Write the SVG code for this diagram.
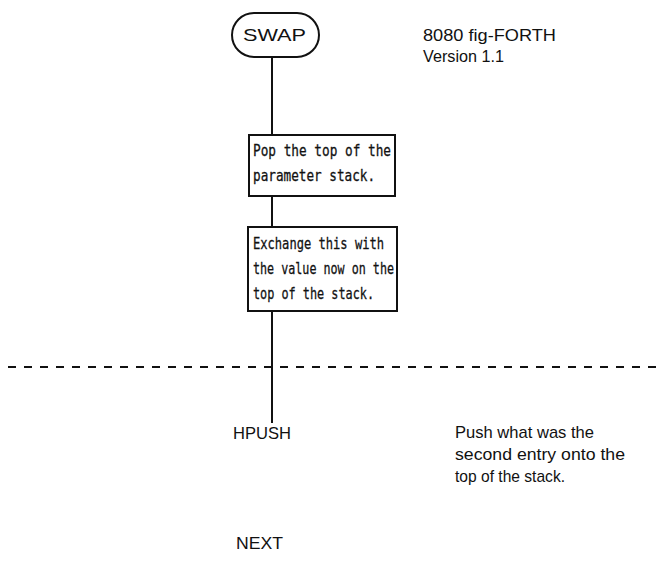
<svg xmlns="http://www.w3.org/2000/svg" width="662" height="565" viewBox="0 0 662 565">
<style>
.ln{stroke:#111;stroke-width:2;fill:none}
.bx{stroke:#111;stroke-width:2;fill:#fff}
.mono{font-family:"DejaVu Sans Mono","Liberation Mono",monospace;font-size:16px;fill:#111;stroke:#111;stroke-width:0.3px}
.sans{font-family:"Liberation Sans",Arial,sans-serif;font-size:17px;fill:#111}
</style>
<rect width="662" height="565" fill="#fff"/>
<g id="connectors">
<line class="ln" x1="272" y1="57" x2="272" y2="135"/>
<line class="ln" x1="272" y1="196" x2="272" y2="227"/>
<line class="ln" x1="272" y1="311" x2="272" y2="423"/>
<line class="ln" x1="8" y1="367" x2="662" y2="367" stroke-dasharray="8,8"/>
</g>
<g id="swap">
<rect class="bx" x="232" y="13" width="87" height="44" rx="22" ry="22"/>
<text class="sans" x="243" y="41" textLength="63" lengthAdjust="spacingAndGlyphs">SWAP</text>
</g>
<g id="title">
<text class="sans" x="423" y="41" textLength="133" lengthAdjust="spacingAndGlyphs">8080 fig-FORTH</text>
<text class="sans" x="423" y="62" textLength="81" lengthAdjust="spacingAndGlyphs">Version 1.1</text>
</g>
<g id="pop">
<rect class="bx" x="249" y="135" width="146" height="61"/>
<text class="mono" x="253" y="156" textLength="138" lengthAdjust="spacingAndGlyphs">Pop the top of the</text>
<text class="mono" x="253" y="181" textLength="122" lengthAdjust="spacingAndGlyphs">parameter stack.</text>
</g>
<g id="exchange">
<rect class="bx" x="248" y="227" width="149" height="84"/>
<text class="mono" x="253" y="249" textLength="131" lengthAdjust="spacingAndGlyphs">Exchange this with</text>
<text class="mono" x="253" y="274" textLength="141" lengthAdjust="spacingAndGlyphs">the value now on the</text>
<text class="mono" x="253" y="299" textLength="121" lengthAdjust="spacingAndGlyphs">top of the stack.</text>
</g>
<g id="hpush">
<text class="sans" x="233" y="439" textLength="58" lengthAdjust="spacingAndGlyphs">HPUSH</text>
</g>
<g id="hpush-note">
<text class="sans" x="455" y="438" textLength="139" lengthAdjust="spacingAndGlyphs">Push what was the</text>
<text class="sans" x="455" y="460" textLength="170" lengthAdjust="spacingAndGlyphs">second entry onto the</text>
<text class="sans" x="455" y="482" textLength="110" lengthAdjust="spacingAndGlyphs">top of the stack.</text>
</g>
<g id="next">
<text class="sans" x="236" y="549" textLength="47" lengthAdjust="spacingAndGlyphs">NEXT</text>
</g>
</svg>
